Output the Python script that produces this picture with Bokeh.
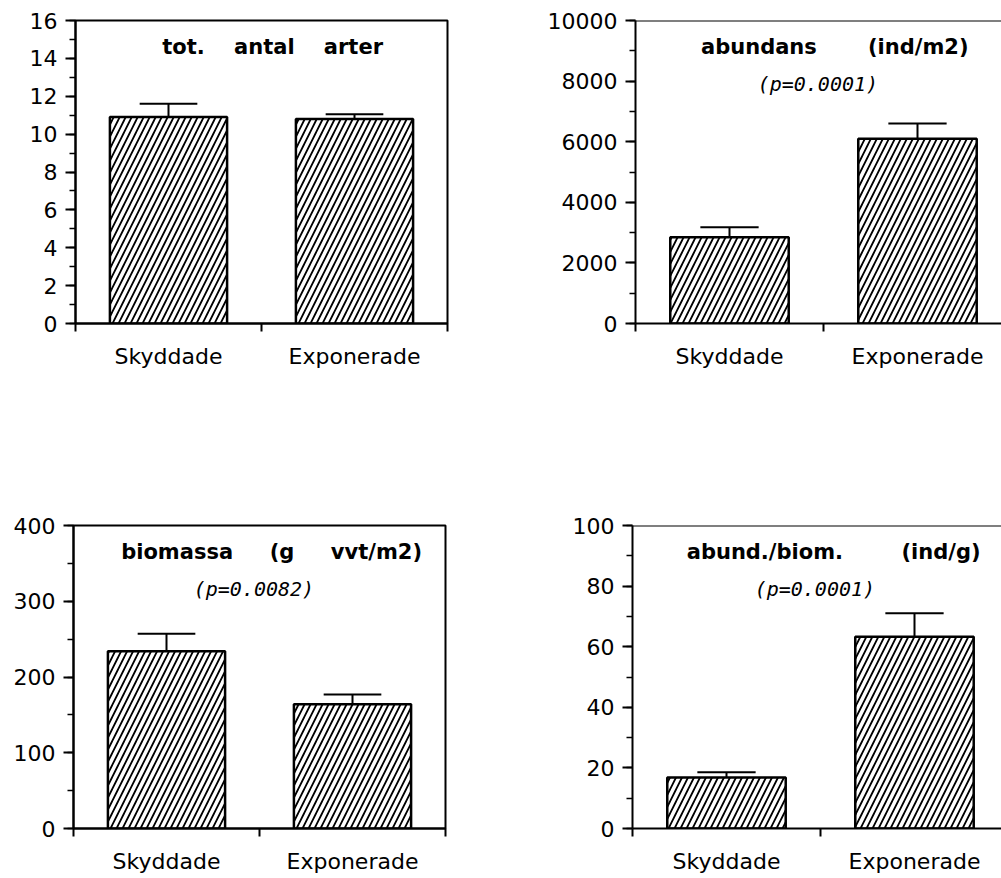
from bokeh.plotting import figure
from bokeh.layouts import row, column
from bokeh.models import SingleIntervalTicker, FixedTicker, Span, Label, Range1d
from bokeh.embed import file_html
from bokeh.resources import INLINE

categories = ["Skyddade", "Exponerade"]
x_pos = [0.5, 1.5]

arter_mean = [10.9, 10.8]
arter_err = [0.7, 0.25]
abund_mean = [2850, 6100]
abund_err = [330, 500]
biom_mean = [234, 164]
biom_err = [23, 13]
ratio_mean = [16.8, 63.3]
ratio_err = [1.8, 7.7]

NB = "\u00a0"
titles = ["tot." + NB * 4 + "antal" + NB * 4 + "arter",
          "abundans" + NB * 7 + "(ind/m2)",
          "biomassa" + NB * 5 + "(g" + NB * 5 + "vvt/m2)",
          "abund./biom." + NB * 8 + "(ind/g)"]
pvalues = [None, "(p=0.0001)", "(p=0.0082)", "(p=0.0001)"]
y_max = [16, 10000, 400, 100]
y_major = [2, 2000, 100, 20]

FONT = "DejaVu Sans"
BAR_W = 0.63
CAP_HALF = 0.155


def make_panel(mean, err, ymax, major, title, title_x, pval, width, height,
               left, right, top, bottom, px_per_cat, right_panel):
    frame_w = width - left - right
    x_end = frame_w / px_per_cat
    p = figure(width=width, height=height, output_backend="svg",
               toolbar_location=None, tools="",
               x_range=Range1d(0, x_end), y_range=Range1d(0, ymax),
               min_border_left=left, min_border_right=right,
               min_border_top=top, min_border_bottom=bottom)
    p.background_fill_color = "white"
    p.border_fill_color = "white"
    p.xgrid.visible = False
    p.ygrid.visible = False
    if right_panel:
        p.outline_line_color = None
        p.add_layout(Span(location=ymax, dimension="width",
                          line_color="black", line_width=2))
    else:
        p.outline_line_color = "black"
        p.outline_line_width = 2

    tops = [m + e for m, e in zip(mean, err)]
    p.vbar(x=x_pos, top=mean, bottom=0, width=BAR_W,
           fill_color="white", line_color="black", line_width=2.5,
           hatch_pattern="/", hatch_color="black", hatch_scale=12,
           hatch_weight=1.8)
    p.segment(x0=x_pos, y0=mean, x1=x_pos, y1=tops,
              line_color="black", line_width=2)
    p.segment(x0=[x - CAP_HALF for x in x_pos], y0=tops,
              x1=[x + CAP_HALF for x in x_pos], y1=tops,
              line_color="black", line_width=2)

    ya = p.yaxis[0]
    ya.ticker = SingleIntervalTicker(interval=major, num_minor_ticks=2)
    ya.axis_line_width = 2
    ya.major_tick_out = 10
    ya.major_tick_in = 0
    ya.minor_tick_out = 6
    ya.minor_tick_in = 0
    ya.major_tick_line_width = 2
    ya.minor_tick_line_width = 1.5
    ya.major_label_standoff = 8
    ya.major_label_text_font = FONT
    ya.major_label_text_font_size = "22px"
    ya.major_label_text_color = "black"

    xa = p.xaxis[0]
    xa.ticker = FixedTicker(ticks=x_pos, minor_ticks=[0, 1, 2])
    xa.major_label_overrides = {x: c for x, c in zip(x_pos, categories)}
    xa.axis_line_width = 2
    xa.major_tick_out = 0
    xa.major_tick_in = 0
    xa.minor_tick_out = 8
    xa.minor_tick_in = 0
    xa.minor_tick_line_width = 2
    xa.major_label_standoff = 12
    xa.major_label_text_font = FONT
    xa.major_label_text_font_size = "22px"
    xa.major_label_text_color = "black"

    p.add_layout(Label(x=title_x, y=ymax * 0.912, text=title,
                       text_font=FONT, text_font_style="bold",
                       text_font_size="21px", text_align="center",
                       text_baseline="middle", text_color="black"))
    if pval:
        p.add_layout(Label(x=0.97, y=ymax * 0.79, text=pval,
                           text_font="DejaVu Sans Mono", text_font_style="italic",
                           text_font_size="20px", text_align="center",
                           text_baseline="middle", text_color="black"))
    return p


p1 = make_panel(arter_mean, arter_err, y_max[0], y_major[0], titles[0], 1.06, pvalues[0],
                540, 513, 75, 93, 20, 190, 186, False)
p2 = make_panel(abund_mean, abund_err, y_max[1], y_major[1], titles[1], 1.06, pvalues[1],
                461, 513, 95, 0, 20, 190, 188, True)
p3 = make_panel(biom_mean, biom_err, y_max[2], y_major[2], titles[2], 1.065, pvalues[2],
                540, 365, 73, 95, 12, 50, 186, False)
p4 = make_panel(ratio_mean, ratio_err, y_max[3], y_major[3], titles[3], 1.07, pvalues[3],
                461, 365, 92, 0, 12, 50, 188, True)

layout = column(row(p1, p2), row(p3, p4))
open("out.html", "w").write(file_html(layout, INLINE))
